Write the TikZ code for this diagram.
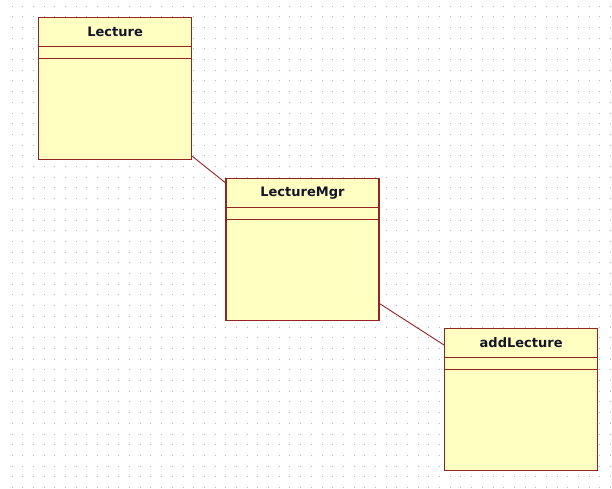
\documentclass[tikz,border=0pt]{standalone}
\usepackage{fontspec}
\setmainfont{DejaVu Sans}
\usetikzlibrary{calc}
\definecolor{umlline}{RGB}{150,35,35}
\definecolor{umlfill}{RGB}{255,255,194}
\definecolor{griddot}{RGB}{180,180,180}
\definecolor{nametext}{RGB}{20,20,40}
\tikzset{
  classbox/.style={draw=umlline, fill=umlfill, line width=1.3pt, rectangle,
    inner sep=0pt, anchor=north west, minimum width=153pt, minimum height=142pt},
  classname/.style={font=\bfseries\fontsize{13}{15}\selectfont, text=nametext, inner sep=0pt},
  compartment/.style={draw=umlline, line width=1.3pt},
  assoc/.style={draw=umlline, line width=0.9pt}
}
\begin{document}
\begin{tikzpicture}[x=1pt,y=-1pt]
  % canvas
  \fill[white] (0,0) rectangle (612,488);
  \useasboundingbox (0,0) rectangle (612,488);
  % dotted background grid
  \foreach \i in {0,...,56}{
    \foreach \j in {0,...,45}{
      \fill[griddot] ({12+10.69*\i-0.5},{6+10.7*\j-0.5}) rectangle ++(1,1);
    }
  }
  % classes
  \node[classbox] (lecture) at (38,17) {};
  \node[classbox] (mgr) at (225.3,178) {};
  \node[classbox] (add) at (444,328) {};
  \foreach \c/\t in {lecture/Lecture, mgr/LectureMgr, add/addLecture}{
    \draw[compartment] ($(\c.north west)+(0,29.7)$) -- ($(\c.north east)+(0,29.7)$);
    \draw[compartment] ($(\c.north west)+(0,41.7)$) -- ($(\c.north east)+(0,41.7)$);
    \node[classname] (\c-title) at ($(\c.north)+(0,15)$) {\t};
  }
  % associations
  \coordinate (a1) at ($(lecture.south east)+(0,-4)$);
  \coordinate (a2) at ($(mgr.north west)+(0,4.7)$);
  \coordinate (b1) at ($(mgr.south east)+(0,-17.7)$);
  \coordinate (b2) at ($(add.north west)+(0,17)$);
  \draw[assoc] (a1) -- (a2);
  \draw[assoc] (b1) -- (b2);
\end{tikzpicture}
\end{document}
